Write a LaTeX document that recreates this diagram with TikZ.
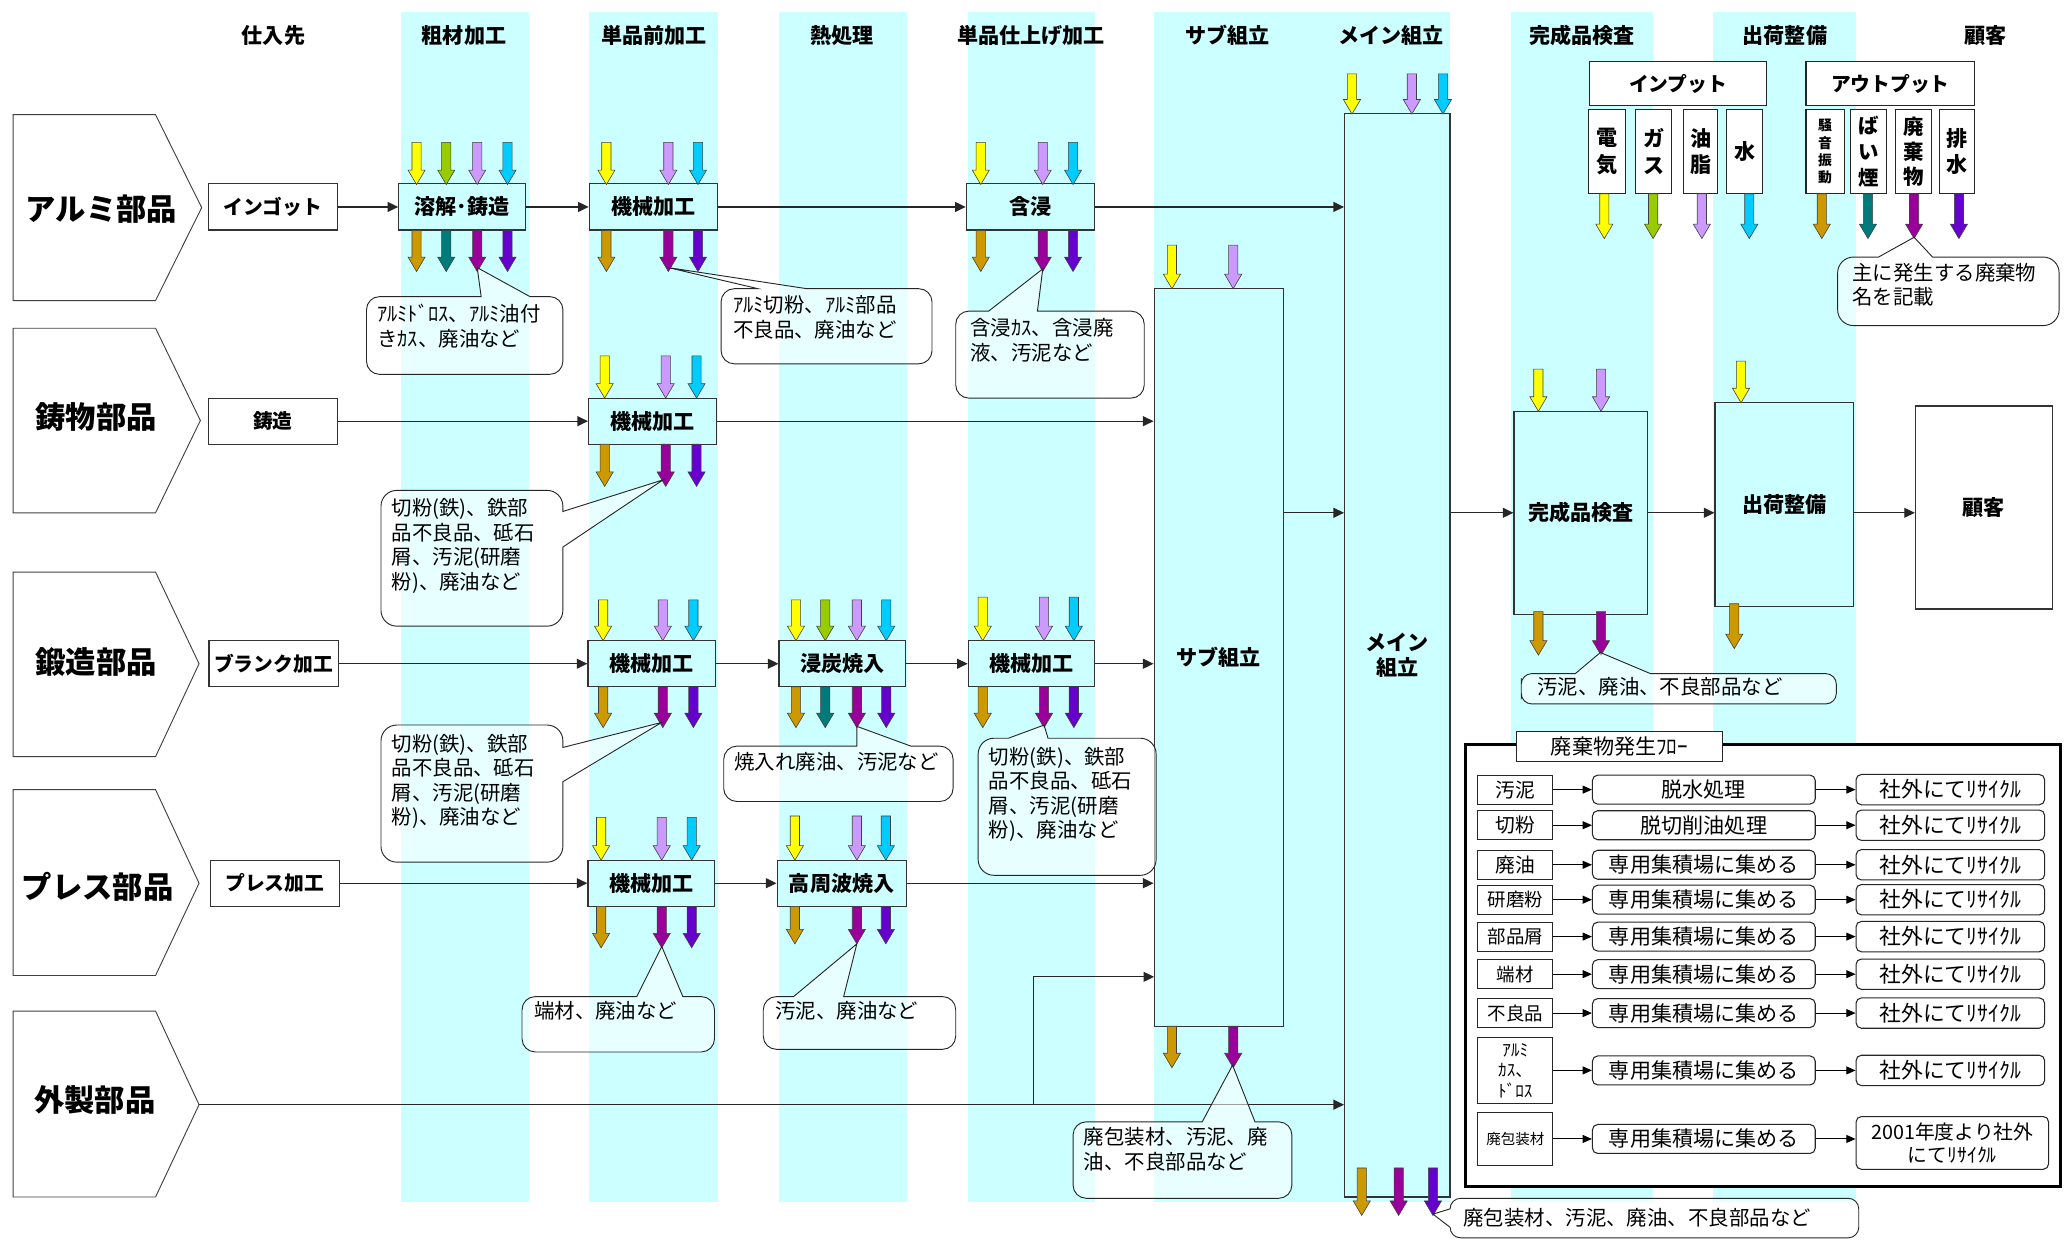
\documentclass[tikz,border=0pt]{standalone}
\usepackage{fontspec}
\setmainfont{Noto Sans CJK JP}
\usetikzlibrary{arrows.meta}
\definecolor{bandc}{HTML}{CCFFFF}
\definecolor{cY}{HTML}{FFFF00}
\definecolor{cG}{HTML}{99CC00}
\definecolor{cL}{HTML}{CC99FF}
\definecolor{cB}{HTML}{00CCFF}
\definecolor{cO}{HTML}{CC9900}
\definecolor{cT}{HTML}{007B7B}
\definecolor{cM}{HTML}{990099}
\definecolor{cV}{HTML}{6600CC}
\newcommand\dnarr[4]{\filldraw[ioarr,fill=#1] ({#2-3.5},#3) -- ({#2+3.5},#3) -- ({#2+3.5},{#4-11}) -- ({#2+6.5},{#4-11}) -- (#2,#4) -- ({#2-6.5},{#4-11}) -- ({#2-3.5},{#4-11}) -- cycle;}
\newcommand\cotop[9]{\draw[callout] (#1,{(#2+#4)/2}) [rounded corners=#9pt] -- (#1,#2) [sharp corners] -- (#7,#2) -- (#5,#6) -- (#8,#2) [rounded corners=#9pt] -- (#3,#2) -- (#3,#4) -- (#1,#4) -- cycle;}
\newcommand\coright[9]{\draw[callout] ({(#1+#3)/2},#2) [rounded corners=#9pt] -- (#3,#2) [sharp corners] -- (#3,#7) -- (#5,#6) -- (#3,#8) [rounded corners=#9pt] -- (#3,#4) -- (#1,#4) -- (#1,#2) -- cycle;}
\tikzset{
 ioarr/.style={draw=black!75,line width=0.45pt},
 hdr/.style={font=\bfseries\fontsize{16}{19}\selectfont, inner sep=0pt},
 chev/.style={draw=black!75, fill=white, line width=0.7pt},
 chevtxt/.style={font=\bfseries\fontsize{23}{26}\selectfont, inner sep=0pt},
 supbox/.style={draw=black!80, fill=white, line width=0.9pt, minimum width=98pt, minimum height=35pt, inner sep=0pt, font=\bfseries\fontsize{15}{18}\selectfont},
 pbox/.style={draw=black!80, fill=bandc, line width=0.9pt, minimum width=96pt, minimum height=35pt, inner sep=0pt, font=\bfseries\fontsize{16}{19}\selectfont},
 bigbox/.style={draw=black!80, fill=bandc, line width=0.9pt, inner sep=0pt, align=center, font=\bfseries\fontsize{16}{19}\selectfont},
 conn/.style={draw=black!85, line width=0.9pt, -{Triangle[length=8pt,width=7.5pt]}},
 callout/.style={draw=black!85, line width=0.7pt, fill=white, fill opacity=0.55},
 cotxt/.style={font=\fontsize{15.5}{18.6}\selectfont, align=left, inner sep=0pt},
 lgbox/.style={draw=black!85, fill=white, line width=0.8pt, inner sep=0pt, align=center},
 vbox/.style={draw=black!85, fill=white, line width=0.8pt, minimum height=64pt, inner sep=0pt, align=center, font=\bfseries\fontsize{16}{20}\selectfont},
 flA/.style={draw=black!85, fill=white, line width=0.8pt, minimum width=57pt, minimum height=22pt, inner sep=0pt, align=center, font=\fontsize{14}{16}\selectfont},
 flB/.style={draw=black!85, fill=white, line width=0.8pt, rounded corners=4pt, minimum width=169pt, minimum height=22pt, inner sep=0pt, align=center, font=\fontsize{16}{19}\selectfont},
 flC/.style={draw=black!85, fill=white, line width=0.8pt, rounded corners=4pt, minimum width=143pt, minimum height=23pt, inner sep=0pt, align=center, font=\fontsize{16.5}{18}\selectfont},
 fconn/.style={draw=black, line width=0.8pt, -{Triangle[length=7pt,width=6pt]}},
}
\begin{document}
\begin{tikzpicture}[x=1pt,y=-1pt]
\useasboundingbox (0,0) rectangle (1568,941);
\fill[white] (0,0) rectangle (1568,941);
% bands
\foreach \a/\b in {304/401, 447/545, 591/688, 734/831, 875.5/1100, 1146/1254, 1299.5/1408}
  \fill[bandc] (\a,9) rectangle (\b,912);
% headers
\node[hdr] (h1) at (207.5,27) {仕入先};
\node[hdr] (h2) at (352,27) {粗材加工};
\node[hdr] (h3) at (496,27) {単品前加工};
\node[hdr] (h4) at (639,27) {熱処理};
\node[hdr] (h5) at (782,27) {単品仕上げ加工};
\node[hdr] (h6) at (931,27) {サブ組立};
\node[hdr] (h7) at (1055,27) {メイン組立};
\node[hdr] (h8) at (1200,27) {完成品検査};
\node[hdr] (h9) at (1354,27) {出荷整備};
\node[hdr] (h10) at (1506,27) {顧客};
% chevrons
\draw[chev] (10,87) -- (118,87) -- (153,157.5) -- (118,228) -- (10,228) -- cycle;
\node[chevtxt] (p1) at (77,159) {アルミ部品};
\draw[chev] (10,249) -- (118,249) -- (152,319) -- (118,389) -- (10,389) -- cycle;
\node[chevtxt] (p2) at (73,316) {鋳物部品};
\draw[chev] (10,434) -- (118,434) -- (151,503.5) -- (118,574) -- (10,574) -- cycle;
\node[chevtxt] (p3) at (73,502) {鍛造部品};
\draw[chev] (10,599) -- (118,599) -- (151,670) -- (118,740) -- (10,740) -- cycle;
\node[chevtxt] (p4) at (74,672.5) {プレス部品};
\draw[chev] (10,767) -- (118,767) -- (151,838) -- (118,908) -- (10,908) -- cycle;
\node[chevtxt] (p5) at (72,834.5) {外製部品};
% supplier boxes
\node[supbox] (ingot) at (207,157) {インゴット};
\node[supbox] (cast) at (207,319.5) {鋳造};
\node[supbox] (blank) at (207.5,503.5) {ブランク加工};
\node[supbox] (press) at (208.5,670) {プレス加工};
% process boxes
\node[pbox] (m1) at (350.5,157) {溶解･鋳造};
\node[pbox, minimum width=97pt] (k1) at (495.5,157) {機械加工};
\node[pbox, minimum width=97pt] (g1) at (781.5,157) {含浸};
\node[pbox, minimum width=97pt] (k2) at (495,319.5) {機械加工};
\node[pbox, minimum width=97pt] (k3) at (494.5,503.5) {機械加工};
\node[pbox] (sh) at (639,503.5) {浸炭焼入};
\node[pbox] (k4) at (782.5,503.5) {機械加工};
\node[pbox] (k5) at (494,670) {機械加工};
\node[pbox, minimum width=98pt] (hf) at (638.5,670) {高周波焼入};
% big boxes
\node[bigbox, minimum width=98pt, minimum height=559.5pt] (sub) at (924.5,498.75) {サブ組立};
\node[bigbox, minimum width=80pt, minimum height=822pt] (main) at (1060,497) {メイン\\組立};
\node[bigbox, minimum width=101.5pt, minimum height=154pt] (kan) at (1199.25,389) {完成品検査};
\node[bigbox, minimum width=105pt, minimum height=154.5pt] (ship) at (1353.5,382.75) {出荷整備};
\node[bigbox, fill=white, minimum width=104pt, minimum height=154pt] (cust) at (1505,385) {顧客};
% connectors
\draw[conn] (ingot) -- (m1);
\draw[conn] (m1) -- (k1);
\draw[conn] (k1) -- (g1);
\draw[conn] (g1.east) -- (g1.east -| main.west);
\draw[conn] (cast) -- (k2);
\draw[conn] (k2.east) -- (k2.east -| sub.west);
\draw[conn] (blank) -- (k3);
\draw[conn] (k3) -- (sh);
\draw[conn] (sh) -- (k4);
\draw[conn] (k4.east) -- (k4.east -| sub.west);
\draw[conn] (press) -- (k5);
\draw[conn] (k5) -- (hf);
\draw[conn] (hf.east) -- (hf.east -| sub.west);
\coordinate (c5) at (151,838);
\draw[conn] (c5) -- (c5 -| main.west);
\coordinate (br) at (784,838);
\coordinate (brE) at (875.5,741);
\draw[conn] (br) |- (brE);
\draw[conn] (sub.east |- kan.west) -- (main.west |- kan.west);
\draw[conn] (main.east |- kan.west) -- (kan.west);
\draw[conn] (kan.east) -- (kan.east -| ship.west);
\draw[conn] (ship.east |- kan.east) -- (cust.west |- kan.east);
% input / output arrows
\foreach \c/\x in {cY/316,cG/338.5,cL/362,cB/385} {\dnarr{\c}{\x}{108}{140}}
\foreach \c/\x in {cO/316,cT/338.5,cM/362,cV/385} {\dnarr{\c}{\x}{175}{206}}
\foreach \c/\x in {cY/460,cL/507,cB/529.5} {\dnarr{\c}{\x}{108}{140}}
\foreach \c/\x in {cO/460,cM/507,cV/529.5} {\dnarr{\c}{\x}{175}{206}}
\foreach \c/\x in {cY/744,cL/791,cB/814} {\dnarr{\c}{\x}{108}{140}}
\foreach \c/\x in {cO/744,cM/791,cV/814} {\dnarr{\c}{\x}{175}{206}}
\foreach \c/\x in {cY/458.7,cL/505,cB/528.4} {\dnarr{\c}{\x}{270}{302}}
\foreach \c/\x in {cO/458.7,cM/505,cV/528.4} {\dnarr{\c}{\x}{337}{369}}
\foreach \c/\x in {cY/457.5,cL/502.8,cB/526} {\dnarr{\c}{\x}{455}{486}}
\foreach \c/\x in {cO/457.5,cM/502.8,cV/526} {\dnarr{\c}{\x}{521}{552}}
\foreach \c/\x in {cY/603.8,cG/626,cL/650,cB/672.3} {\dnarr{\c}{\x}{455}{486}}
\foreach \c/\x in {cO/603.8,cT/626,cM/650,cV/672.3} {\dnarr{\c}{\x}{521}{552}}
\foreach \c/\x in {cY/745.5,cL/792,cB/814.6} {\dnarr{\c}{\x}{453}{486}}
\foreach \c/\x in {cO/745.5,cM/792,cV/814.6} {\dnarr{\c}{\x}{521}{552}}
\foreach \c/\x in {cY/456,cL/502,cB/524.7} {\dnarr{\c}{\x}{620}{652.5}}
\foreach \c/\x in {cO/456,cM/502,cV/524.7} {\dnarr{\c}{\x}{687.5}{719}}
\foreach \c/\x in {cY/603,cL/650,cB/672} {\dnarr{\c}{\x}{619}{652.5}}
\foreach \c/\x in {cO/603,cM/650,cV/672} {\dnarr{\c}{\x}{687.5}{716}}
\foreach \c/\x in {cY/889,cL/935.5} {\dnarr{\c}{\x}{186}{219}}
\foreach \c/\x in {cO/889,cM/935.5} {\dnarr{\c}{\x}{778.5}{810}}
\foreach \c/\x in {cY/1025.6,cL/1071,cB/1094.6} {\dnarr{\c}{\x}{56}{86.5}}
\foreach \c/\x in {cO/1033,cM/1061,cV/1087} {\dnarr{\c}{\x}{886}{922}}
\foreach \c/\x in {cY/1167,cL/1214.5} {\dnarr{\c}{\x}{280}{312}}
\foreach \c/\x in {cO/1167,cM/1214.5} {\dnarr{\c}{\x}{464}{497}}
\dnarr{cY}{1320.7}{274}{305.5}
\dnarr{cO}{1315.6}{458}{492}
% callouts
\cotop{278}{225}{427}{284}{362}{203}{365}{402}{10}
\node[cotxt, anchor=north west] (t1) at (286,230.5) {ｱﾙﾐﾄﾞﾛｽ、ｱﾙﾐ油付\\きｶｽ、廃油など};
\cotop{547}{219}{707}{276}{507}{203}{575}{612}{10}
\node[cotxt, anchor=north west] (t2) at (556,224) {ｱﾙﾐ切粉、ｱﾙﾐ部品\\不良品、廃油など};
\cotop{725}{236}{868}{302}{791}{204}{750}{787}{10}
\node[cotxt, anchor=north west] (t3) at (736,241.5) {含浸ｶｽ、含浸廃\\液、汚泥など};
\coright{289}{372}{427}{475}{503}{364}{388}{415}{12}
\node[cotxt, anchor=north west] (t4) at (297,378) {切粉(鉄)、鉄部\\品不良品、砥石\\屑、汚泥(研磨\\粉)、廃油など};
\coright{289}{550}{427}{654}{502}{548}{567}{593}{12}
\node[cotxt, anchor=north west] (t5) at (297,556.5) {切粉(鉄)、鉄部\\品不良品、砥石\\屑、汚泥(研磨\\粉)、廃油など};
\cotop{549}{566}{723}{608}{650}{551}{650}{691}{10}
\node[cotxt, anchor=west] (t6) at (557,578) {焼入れ廃油、汚泥など};
\cotop{742}{560}{877}{664}{792}{550}{765}{795}{12}
\node[cotxt, anchor=north west] (t7) at (750,566.5) {切粉(鉄)、鉄部\\品不良品、砥石\\屑、汚泥(研磨\\粉)、廃油など};
\cotop{396}{756}{542}{798}{502}{718}{483}{518}{10}
\node[cotxt, anchor=west] (t8) at (405,767) {端材、廃油など};
\cotop{579}{756}{725}{796}{650}{716}{602}{640}{10}
\node[cotxt, anchor=west] (t9) at (588,767) {汚泥、廃油など};
\cotop{814}{851}{980}{909}{935}{808}{912}{952}{10}
\node[cotxt, anchor=north west] (t10) at (822,855) {廃包装材、汚泥、廃\\油、不良部品など};
\cotop{1154}{511}{1393}{534}{1214}{495}{1195}{1252}{8}
\node[cotxt, anchor=west] (t11) at (1166,521) {汚泥、廃油、不良部品など};
\draw[callout] (1255,909) [rounded corners=8pt] -- (1410,909) -- (1410,939) -- (1100,939) [sharp corners] -- (1100,931) -- (1087,921) -- (1100,917) [rounded corners=8pt] -- (1100,909) -- cycle;
\node[cotxt, anchor=west] (t12) at (1110,924) {廃包装材、汚泥、廃油、不良部品など};
% legend input / output
\node[lgbox, minimum width=134pt, minimum height=33pt, font=\bfseries\fontsize{15}{18}\selectfont] (inB) at (1273,63.5) {インプット};
\node[lgbox, minimum width=128pt, minimum height=33pt, font=\bfseries\fontsize{15}{18}\selectfont] (outB) at (1434,63.5) {アウトプット};
\node[vbox, minimum width=28pt] (e1) at (1219,115) {電\\気};
\node[vbox, minimum width=27pt] (e2) at (1254.5,115) {ガ\\ス};
\node[vbox, minimum width=26pt] (e3) at (1290,115) {油\\脂};
\node[vbox, minimum width=27pt] (e4) at (1323.5,115) {水};
\node[vbox, minimum width=29pt, font=\bfseries\fontsize{10.5}{13}\selectfont] (o1) at (1384.5,115) {騒\\音\\振\\動};
\node[vbox, minimum width=27pt, font=\bfseries\fontsize{15.5}{19.5}\selectfont] (o2) at (1417.5,115) {ば\\い\\煙};
\node[vbox, minimum width=27pt, font=\bfseries\fontsize{15.5}{19}\selectfont] (o3) at (1451.5,115) {廃\\棄\\物};
\node[vbox, minimum width=27pt] (o4) at (1484.5,115) {排\\水};
\foreach \c/\x in {cY/1217,cG/1254,cL/1291,cB/1327,cO/1382,cT/1417,cM/1452,cV/1486} {\dnarr{\c}{\x}{147}{181}}
\cotop{1394}{195}{1562}{247}{1452}{180}{1425}{1466}{12}
\node[cotxt, anchor=north west] (t13) at (1405,199.5) {主に発生する廃棄物\\名を記載};
% waste flow legend
\node[draw=black, line width=2.2pt, fill=white, minimum width=451pt, minimum height=335pt, inner sep=0pt] (lg) at (1337.5,732.5) {};
\node[lgbox, minimum width=156pt, minimum height=23pt, font=\fontsize{16}{19}\selectfont] (lgt) at (1228.5,566.5) {廃棄物発生ﾌﾛｰ};
\node[flA, font=\fontsize{15}{18}\selectfont] (a1) at (1149.5,599) {汚泥};
\node[flB] (b1) at (1292.5,599) {脱水処理};
\node[flC] (r1) at (1479.5,599) {社外にてﾘｻｲｸﾙ};
\node[flA, font=\fontsize{15}{18}\selectfont] (a2) at (1149.5,626) {切粉};
\node[flB] (b2) at (1292.5,626) {脱切削油処理};
\node[flC] (r2) at (1479.5,626) {社外にてﾘｻｲｸﾙ};
\node[flA, font=\fontsize{15}{18}\selectfont] (a3) at (1149.5,656) {廃油};
\node[flB] (b3) at (1292.5,656) {専用集積場に集める};
\node[flC] (r3) at (1479.5,656) {社外にてﾘｻｲｸﾙ};
\node[flA] (a4) at (1149.5,682.5) {研磨粉};
\node[flB] (b4) at (1292.5,682.5) {専用集積場に集める};
\node[flC] (r4) at (1479.5,682.5) {社外にてﾘｻｲｸﾙ};
\node[flA] (a5) at (1149.5,710.5) {部品屑};
\node[flB] (b5) at (1292.5,710.5) {専用集積場に集める};
\node[flC] (r5) at (1479.5,710.5) {社外にてﾘｻｲｸﾙ};
\node[flA] (a6) at (1149.5,739) {端材};
\node[flB] (b6) at (1292.5,739) {専用集積場に集める};
\node[flC] (r6) at (1479.5,739) {社外にてﾘｻｲｸﾙ};
\node[flA] (a7) at (1149.5,768.5) {不良品};
\node[flB] (b7) at (1292.5,768.5) {専用集積場に集める};
\node[flC] (r7) at (1479.5,768.5) {社外にてﾘｻｲｸﾙ};
\node[flA, minimum height=50pt, font=\fontsize{13}{15.5}\selectfont] (a8) at (1149.5,812) {ｱﾙﾐ\\ｶｽ、\\ﾄﾞﾛｽ};
\node[flB] (b8) at (1292.5,812) {専用集積場に集める};
\node[flC] (r8) at (1479.5,812) {社外にてﾘｻｲｸﾙ};
\node[flA, minimum height=40pt, font=\fontsize{11}{13}\selectfont] (a9) at (1149.5,864) {廃包装材};
\node[flB] (b9) at (1292.5,864) {専用集積場に集める};
\node[flC, minimum width=146pt, minimum height=40pt, font=\fontsize{15}{18}\selectfont] (r9) at (1481,867) {2001年度より社外\\にてﾘｻｲｸﾙ};
\foreach \i in {1,...,8} {
  \draw[fconn] (a\i) -- (b\i);
  \draw[fconn] (b\i) -- (r\i);
}
\draw[fconn] (a9) -- (b9);
\draw[fconn] (b9.east) -- (b9.east -| r9.west);
\end{tikzpicture}
\end{document}
